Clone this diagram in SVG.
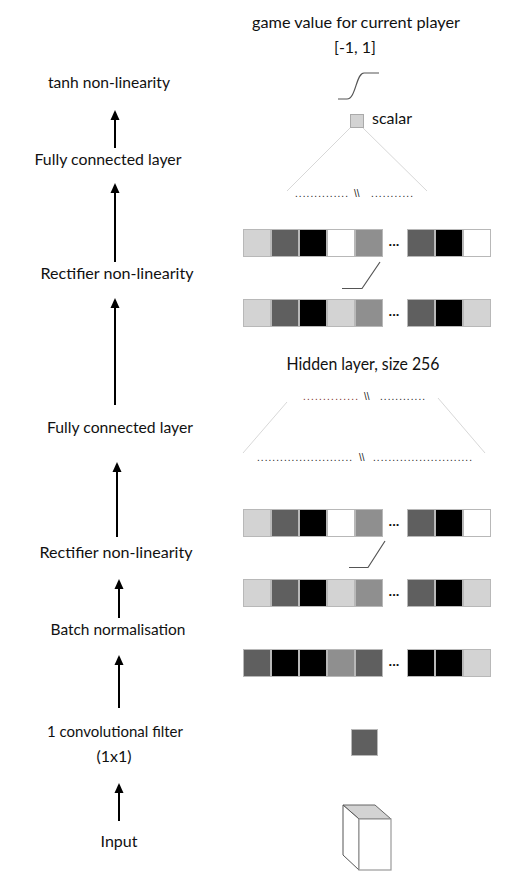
<svg xmlns="http://www.w3.org/2000/svg" width="513" height="873" viewBox="0 0 513 873">
<defs>
<style>
.lbl{font-family:Lato,"Open Sans","Liberation Sans",sans-serif;font-size:16px;fill:#111;text-anchor:middle}
.big{font-size:18px}
.dots{font-family:"Liberation Sans",sans-serif;font-size:10px;fill:#222}
.ell{font-family:"Liberation Sans",sans-serif;font-size:13px;font-weight:bold;fill:#111;text-anchor:middle}
.sq{stroke:#b8b8b8;stroke-width:1}
.lg{fill:#d3d3d3}.dg{fill:#5f5f5f}.bk{fill:#000}.wh{fill:#fff}.mg{fill:#8f8f8f}
.arr{stroke:#000;stroke-width:2;fill:none}
.thin{stroke:#d8d8d8;stroke-width:1;fill:none}
.fn{stroke:#555;stroke-width:1.2;fill:none}
</style>
<marker id="ah" markerUnits="userSpaceOnUse" markerWidth="10" markerHeight="10" refX="8" refY="5" orient="auto" viewBox="0 0 10 10">
<polygon points="10,5 0,0.5 0,9.5" fill="#000"/>
</marker>
<g id="rowA">
<rect class="sq lg" x="243.5" y="0.5" width="27" height="27"/>
<rect class="sq dg" x="271.5" y="0.5" width="27" height="27"/>
<rect class="sq bk" x="299.5" y="0.5" width="27" height="27"/>
<rect class="sq wh" x="327.5" y="0.5" width="27" height="27"/>
<rect class="sq mg" x="355.5" y="0.5" width="27" height="27"/>
<text class="ell" x="394" y="17">...</text>
<rect class="sq dg" x="407.5" y="0.5" width="27" height="27"/>
<rect class="sq bk" x="435.5" y="0.5" width="27" height="27"/>
<rect class="sq wh" x="463.5" y="0.5" width="27" height="27"/>
</g>
<g id="rowB">
<rect class="sq lg" x="243.5" y="0.5" width="27" height="27"/>
<rect class="sq dg" x="271.5" y="0.5" width="27" height="27"/>
<rect class="sq bk" x="299.5" y="0.5" width="27" height="27"/>
<rect class="sq lg" x="327.5" y="0.5" width="27" height="27"/>
<rect class="sq mg" x="355.5" y="0.5" width="27" height="27"/>
<text class="ell" x="394" y="17">...</text>
<rect class="sq dg" x="407.5" y="0.5" width="27" height="27"/>
<rect class="sq bk" x="435.5" y="0.5" width="27" height="27"/>
<rect class="sq lg" x="463.5" y="0.5" width="27" height="27"/>
</g>
</defs>
<rect width="513" height="873" fill="#fff"/>

<g id="labels">
<g id="lbl-tanh"><text class="lbl" x="109" y="88" textLength="122" lengthAdjust="spacingAndGlyphs">tanh non-linearity</text></g>
<g id="lbl-fc2"><text class="lbl" x="108" y="165" textLength="147" lengthAdjust="spacingAndGlyphs">Fully connected layer</text></g>
<g id="lbl-relu2"><text class="lbl" x="117" y="279" textLength="153" lengthAdjust="spacingAndGlyphs">Rectifier non-linearity</text></g>
<g id="lbl-fc1"><text class="lbl" x="120" y="433" textLength="146" lengthAdjust="spacingAndGlyphs">Fully connected layer</text></g>
<g id="lbl-relu1"><text class="lbl" x="116" y="558" textLength="153" lengthAdjust="spacingAndGlyphs">Rectifier non-linearity</text></g>
<g id="lbl-bn"><text class="lbl" x="118" y="635" textLength="135" lengthAdjust="spacingAndGlyphs">Batch normalisation</text></g>
<g id="lbl-conv"><text class="lbl" x="115" y="737" textLength="136" lengthAdjust="spacingAndGlyphs">1 convolutional filter</text><text class="lbl" x="114" y="762">(1x1)</text></g>
<g id="lbl-input"><text class="lbl" x="119" y="847">Input</text></g>
</g>

<g id="connectors">
<line class="arr" x1="115" y1="148" x2="115" y2="112" marker-end="url(#ah)"/>
<line class="arr" x1="115" y1="262" x2="115" y2="185" marker-end="url(#ah)"/>
<line class="arr" x1="115" y1="405" x2="115" y2="300" marker-end="url(#ah)"/>
<line class="arr" x1="117" y1="537" x2="117" y2="464" marker-end="url(#ah)"/>
<line class="arr" x1="119" y1="618" x2="119" y2="581" marker-end="url(#ah)"/>
<line class="arr" x1="119" y1="708" x2="119" y2="657" marker-end="url(#ah)"/>
<line class="arr" x1="119" y1="821" x2="119" y2="785" marker-end="url(#ah)"/>
</g>

<g id="output">
<text class="lbl" x="356" y="28" textLength="208" lengthAdjust="spacingAndGlyphs">game value for current player</text>
<text class="lbl" x="355" y="53">[-1, 1]</text>
<path class="fn" d="M338,99 H347 C356,99 356,73 364,73 H379"/>
<rect x="350.5" y="114.5" width="13" height="13" fill="#d3d3d3" stroke="#aaa"/>
<text class="lbl" x="372" y="124" style="text-anchor:start">scalar</text>
</g>

<g id="fc2">
<line class="thin" x1="350" y1="128" x2="287" y2="191"/>
<line class="thin" x1="363" y1="128" x2="427" y2="191"/>
<text class="dots" x="295" y="197" textLength="53" lengthAdjust="spacing">..............</text>
<text class="dots" x="354" y="197">\\</text>
<text class="dots" x="371" y="197" textLength="42" lengthAdjust="spacing">...........</text>
</g>

<g id="relu2-out"><use href="#rowA" x="0" y="229"/></g>
<path id="relu2-fn" class="fn" d="M342,288.5 H362 L380,262"/>
<g id="hidden"><use href="#rowB" x="0" y="299"/></g>

<g id="fc1">
<text class="lbl big" x="363" y="370" textLength="153" lengthAdjust="spacingAndGlyphs">Hidden layer, size 256</text>
<text class="dots" x="303" y="400" textLength="55" lengthAdjust="spacing" style="fill:#7a2a22">..............</text>
<text class="dots" x="364" y="400">\\</text>
<text class="dots" x="380" y="400" textLength="45" lengthAdjust="spacing">............</text>
<line class="thin" x1="287" y1="402" x2="243" y2="453"/>
<line class="thin" x1="438" y1="398" x2="485" y2="453"/>
<text class="dots" x="257" y="461" textLength="95" lengthAdjust="spacing">.........................</text>
<text class="dots" x="359" y="461">\\</text>
<text class="dots" x="373" y="461" textLength="99" lengthAdjust="spacing">..........................</text>
</g>

<g id="relu1-out"><use href="#rowA" x="0" y="509"/></g>
<path id="relu1-fn" class="fn" d="M349,567.5 H368 L385,541"/>
<g id="bn-out"><use href="#rowB" x="0" y="579"/></g>

<g id="conv-out">
<rect class="sq dg" x="243.5" y="649.5" width="27" height="27"/>
<rect class="sq bk" x="271.5" y="649.5" width="27" height="27"/>
<rect class="sq bk" x="299.5" y="649.5" width="27" height="27"/>
<rect class="sq mg" x="327.5" y="649.5" width="27" height="27"/>
<rect class="sq dg" x="355.5" y="649.5" width="27" height="27"/>
<text class="ell" x="394" y="666">...</text>
<rect class="sq bk" x="407.5" y="649.5" width="27" height="27"/>
<rect class="sq bk" x="435.5" y="649.5" width="27" height="27"/>
<rect class="sq lg" x="463.5" y="649.5" width="27" height="27"/>
</g>

<g id="filter"><rect class="sq dg" x="351.5" y="729.5" width="26" height="26"/></g>

<g id="input">
<polygon points="343,805 375,805 391,819 359,819" fill="#d3d3d3" stroke="#666" stroke-width="1"/>
<polygon points="343,805 359,819 359,870 343,855" fill="#fff" stroke="#555" stroke-width="1"/>
<rect x="359" y="819" width="32" height="51" fill="#fff" stroke="#999" stroke-width="1.2"/>
</g>
</svg>
